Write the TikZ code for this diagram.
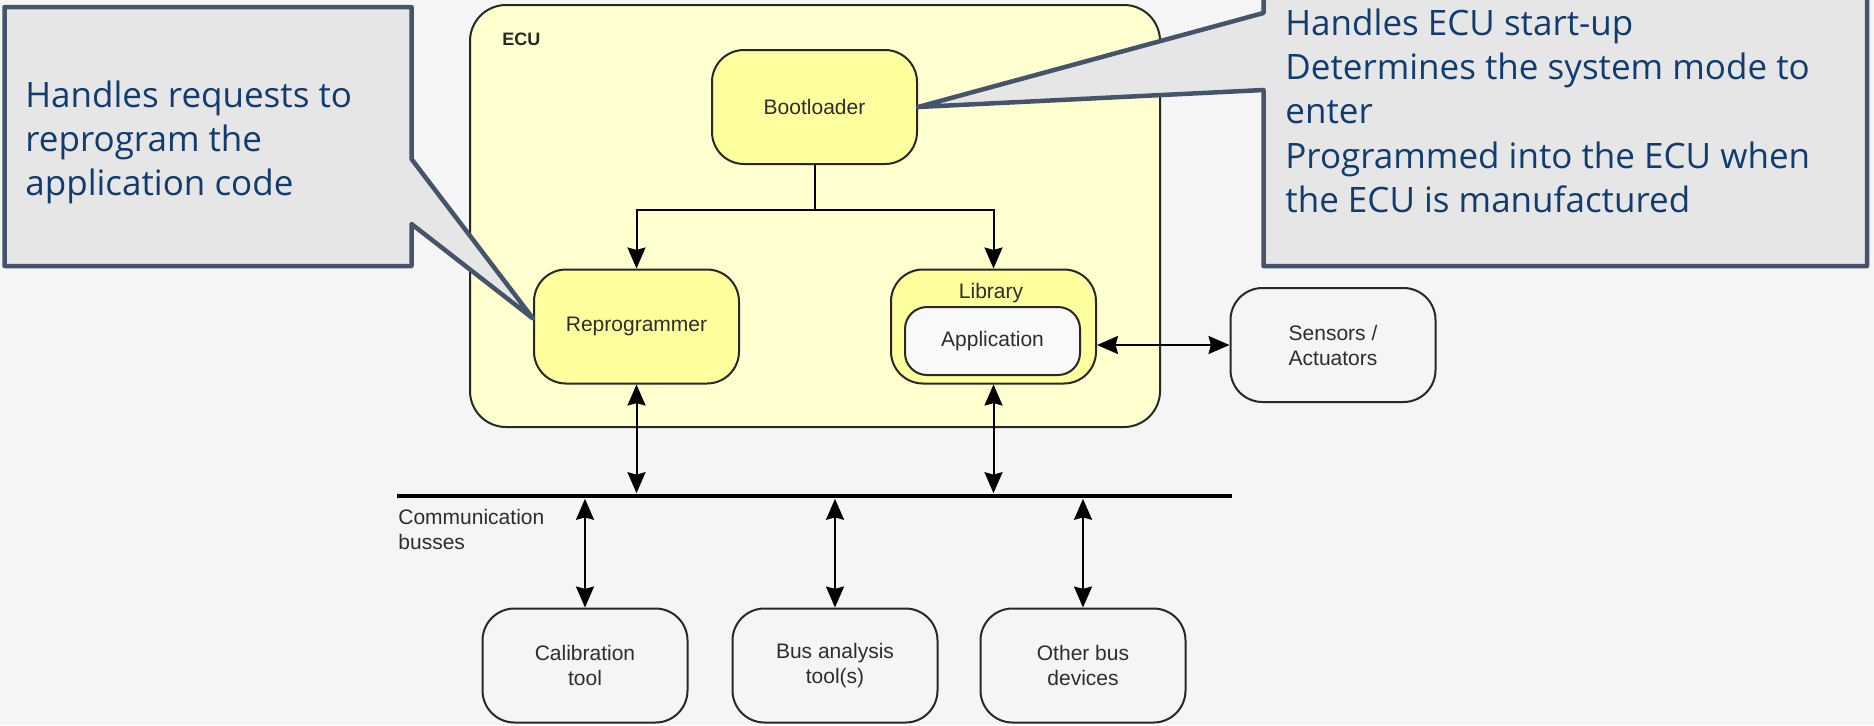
\documentclass[tikz,border=0pt]{standalone}
\usepackage{fontspec}
\setmainfont{Liberation Sans}
\newfontfamily\calloutfont{Open Sans}
\usetikzlibrary{arrows.meta,calc}

\definecolor{bgpage}{RGB}{245,245,245}
\definecolor{ecufill}{RGB}{255,255,208}
\definecolor{blockfill}{RGB}{255,255,158}
\definecolor{appfill}{RGB}{249,249,249}
\definecolor{notefill}{RGB}{230,230,230}
\definecolor{noteedge}{RGB}{68,84,106}
\definecolor{notetext}{RGB}{17,60,112}
\definecolor{inkgray}{RGB}{40,40,40}
\definecolor{labelgray}{RGB}{45,45,45}

\begin{document}
\begin{tikzpicture}[x=0.5pt,y=-0.5pt,
  ecubox/.style={draw=inkgray, line width=1pt, rounded corners=18pt, fill=ecufill,
    minimum width=345pt, minimum height=211pt, inner sep=0pt},
  block/.style={draw=inkgray, line width=1pt, rounded corners=16pt, fill=blockfill,
    minimum width=102.5pt, minimum height=57pt, inner sep=0pt, align=center,
    text=labelgray, font=\fontsize{10.5}{12.5}\selectfont},
  outerblock/.style={block, fill=bgpage},
  appblock/.style={block, fill=appfill, minimum width=87.5pt, minimum height=34pt,
    rounded corners=11pt},
  label/.style={text=labelgray, font=\fontsize{10.5}{12.5}\selectfont, inner sep=0pt},
  busbar/.style={fill=black, minimum width=417.5pt, minimum height=2.4pt, inner sep=0pt},
  link/.style={draw=black, line width=1pt},
  tip/.tip={Stealth[length=10.5pt, width=9pt, inset=1.2pt]},
  note/.style={draw=noteedge, line width=2.25pt, fill=notefill, line join=round},
  notetxt/.style={text=notetext, inner sep=0pt,
    font=\calloutfont\fontsize{17.5}{22.2}\selectfont},
]
\clip (0,0) rectangle (1874,725);
\fill[bgpage] (0,0) rectangle (1874,725);

% ECU container
\node[ecubox] (ecu) at (815,216) {};
\node[anchor=base west, inner sep=0pt, text=inkgray,
  font=\bfseries\fontsize{9}{11}\selectfont] (ecuname) at (502,45) {ECU};

% blocks inside the ECU
\node[block] (boot) at (814.5,107) {Bootloader};
\node[block] (rep) at (636.5,326.5) {Reprogrammer};
\node[block] (lib) at (993.5,326.5) {};
\node[label] (libname) at (991,293) {Library};
\node[appblock] (app) at (992.5,341) {Application};

% external parts
\node[outerblock] (sens) at (1333,345) {Sensors /\\Actuators};
\node[outerblock] (cal) at (585,665.5) {Calibration\\tool};
\node[outerblock] (bat) at (835,665.5) {Bus analysis\\tool(s)};
\node[outerblock] (obd) at (1083,665.5) {Other bus\\devices};

% communication bus
\node[busbar] (bus) at (814.5,496) {};
\node[label, anchor=north west, align=left] (busname) at (398,509) {Communication\\busses};

% connectors
\coordinate (split) at (814.5,210);
\draw[link] (boot.south) -- (split);
\draw[link,-{tip}] (split) -| (rep.north);
\draw[link,-{tip}] (split) -| (lib.north);
\draw[link,{tip}-{tip}] (rep.south |- bus.north) -- (rep.south);
\draw[link,{tip}-{tip}] (lib.south |- bus.north) -- (lib.south);
\draw[link,{tip}-{tip}] (sens.west -| lib.east) -- (sens.west);
\draw[link,{tip}-{tip}] (cal.north |- bus.south) -- (cal.north);
\draw[link,{tip}-{tip}] (bat.north |- bus.south) -- (bat.north);
\draw[link,{tip}-{tip}] (obd.north |- bus.south) -- (obd.north);

% callouts
\draw[note] (4.5,7) -- (411.5,7) -- (411.5,159) -- ($(rep.west)+(0,-8)$)
  -- (411.5,224) -- (411.5,266) -- (4.5,266) -- cycle;
\node[notetxt, anchor=base west] (repnote) at (25,107)
  {\parbox[t]{190pt}{\raggedright Handles requests to\\reprogram the\\application code}};

\draw[note] (1263.5,-20) -- (1867,-20) -- (1867,266) -- (1263.5,266) -- (1263.5,90)
  -- (boot.east) -- (1263.5,13) -- cycle;
\node[notetxt, anchor=base west] (bootnote) at (1285,35)
  {\parbox[t]{290pt}{\raggedright Handles ECU start-up\\Determines the system mode to\\enter\\Programmed into the ECU when\\the ECU is manufactured}};
\end{tikzpicture}
\end{document}
